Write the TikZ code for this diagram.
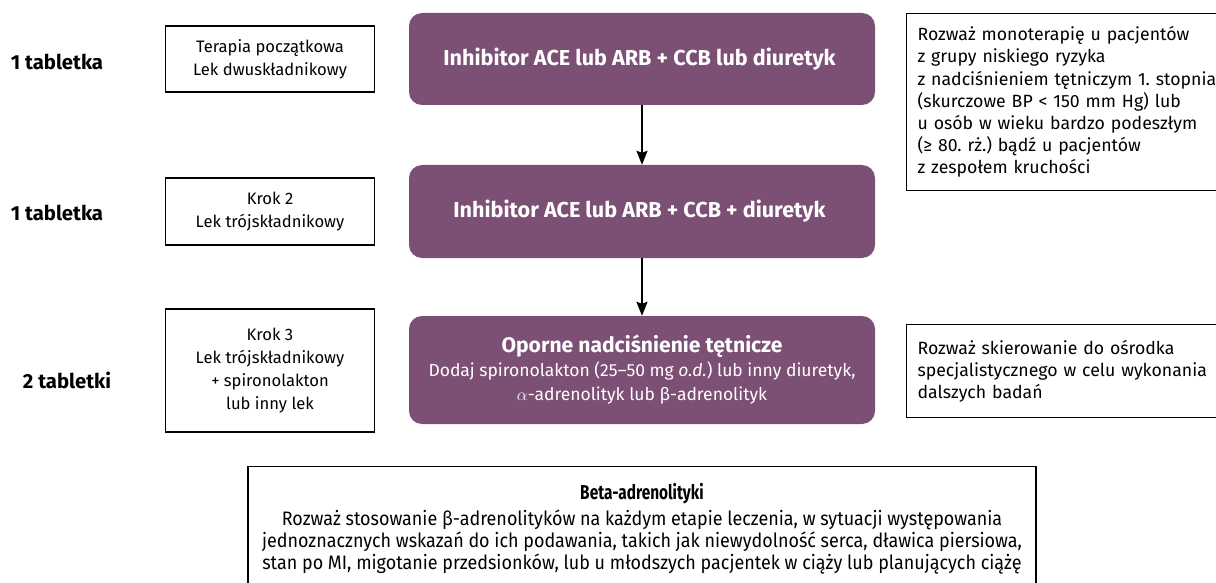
\documentclass[tikz,border=0pt]{standalone}
\usepackage{fontspec}
\setmainfont{Fira Sans}
\newfontfamily\waskifont[FakeStretch=0.92]{Fira Sans}
\newfontfamily\waskitytul[FakeStretch=0.77]{Fira Sans}
\usetikzlibrary{arrows.meta}
\definecolor{fiolet}{RGB}{124,79,117}
\frenchspacing

\begin{document}
\begin{tikzpicture}[x=1pt, y=-1pt,
  ilosc/.style={font=\bfseries\fontsize{20.3}{22}\selectfont},
  krok/.style={draw, line width=1.1pt, minimum width=209pt, align=center, font=\fontsize{16.6}{23}\selectfont},
  lek/.style={fill=fiolet, rounded corners=13pt, minimum width=466pt, align=center, text=white, font=\fontsize{17.5}{24}\selectfont},
  uwaga/.style={draw, line width=1.1pt, anchor=north west, text width=330pt, inner xsep=11pt, align=left, font=\fontsize{17.7}{22.2}\selectfont},
  strzalka/.style={line width=1.8pt, -{Stealth[length=14pt, width=11pt, inset=2pt]}}]
  \clip (0,0) rectangle (1216,583);

  \node [ ilosc ] (ilosc1) at (57,62) { 1 tabletka };
  \node [ ilosc ] (ilosc2) at (57,213) { 1 tabletka };
  \node [ ilosc ] (ilosc3) at (67,380) { 2 tabletki };

  \node [ krok, minimum height=66pt ] (krok1) at (270,59) { Terapia początkowa\\Lek dwuskładnikowy };
  \node [ krok, minimum height=67pt ] (krok2) at (270,211.5) { Krok 2\\Lek trójskładnikowy };
  \node [ krok, minimum height=123pt ] (krok3) at (270,370.5) { Krok 3\\Lek trójskładnikowy\\+ spironolakton\\lub inny lek };

  \node [ lek, minimum height=92pt, font=\bfseries\fontsize{21.6}{24}\selectfont ] (lek1) at (642,59) { Inhibitor ACE lub ARB + CCB lub diuretyk };
  \node [ lek, minimum height=93pt, font=\bfseries\fontsize{21.6}{24}\selectfont ] (lek2) at (642,211.5) { Inhibitor ACE lub ARB + CCB + diuretyk };
  \node [ lek, minimum height=108pt ] (lek3) at (642,370) { {\bfseries\fontsize{21.1}{24}\selectfont Oporne nadciśnienie tętnicze}\\Dodaj spironolakton (25--50 mg \textit{o.d.}) lub inny diuretyk,\\$\alpha$-adrenolityk lub β-adrenolityk };

  \draw [ strzalka ] (lek1) -- (lek2);
  \draw [ strzalka ] (lek2) -- (lek3);

  \node [ uwaga, minimum height=177pt ] (mono) at (906,13) { Rozważ monoterapię u pacjentów\\z grupy niskiego ryzyka\\z nadciśnieniem tętniczym 1. stopnia\\(skurczowe BP < 150 mm Hg) lub\\u osób w wieku bardzo podeszłym\\(≥ 80. rż.) bądź u pacjentów\\z zespołem kruchości };
  \node [ uwaga, minimum height=93pt ] (osrodek) at (906,324) { Rozważ skierowanie do ośrodka\\specjalistycznego w celu wykonania\\dalszych badań };

  \node [ draw, line width=1.1pt, anchor=north, minimum width=788pt, inner ysep=17pt, align=center, font=\waskifont\fontsize{19.5}{22}\selectfont ] (beta) at (642,466) { {\waskitytul\bfseries\fontsize{20}{22}\selectfont Beta-adrenolityki}\\[4pt]Rozważ stosowanie β-adrenolityków na każdym etapie leczenia, w sytuacji występowania\\jednoznacznych wskazań do ich podawania, takich jak niewydolność serca, dławica piersiowa,\\stan po MI, migotanie przedsionków, lub u młodszych pacjentek w ciąży lub planujących ciążę\\[20pt] };
\end{tikzpicture}
\end{document}
